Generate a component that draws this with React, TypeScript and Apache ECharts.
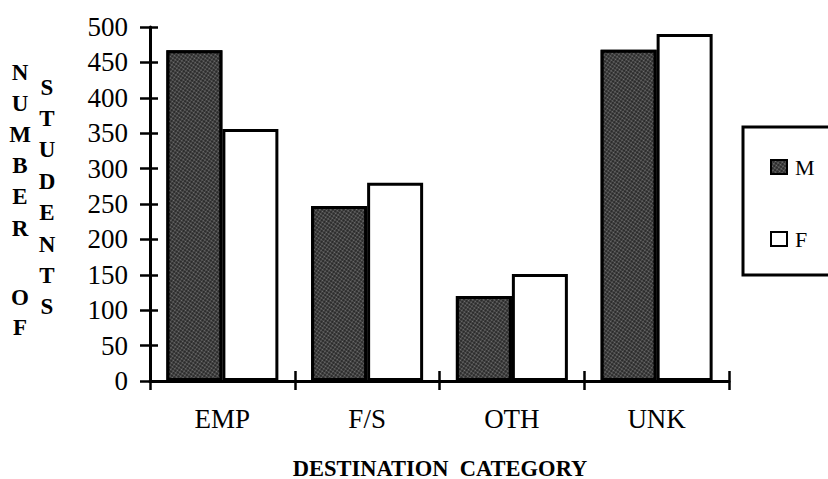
import React, { useEffect, useRef } from "react";
import * as echarts from "echarts";

const categories = ["EMP", "F/S", "OTH", "UNK"];
const maleValues = [467, 247, 120, 468];
const femaleValues = [356, 280, 151, 490];
const seriesNames = ["M", "F"];
const yTitleLeft = ["N", "U", "M", "B", "E", "R"];
const yTitleLeft2 = ["O", "F"];
const yTitleRight = ["S", "T", "U", "D", "E", "N", "T", "S"];
const xTitle = "DESTINATION  CATEGORY";

const SERIF = "Liberation Serif";

export default function App() {
  const ref = useRef<HTMLDivElement>(null);
  useEffect(() => {
    if (!ref.current) return;
    const chart = echarts.init(ref.current, undefined, { renderer: "svg" });
    const letterStyle = (ch: string) => ({
      text: ch,
      fontFamily: SERIF,
      fontSize: 23,
      fontWeight: "bold",
      fill: "#000",
      align: "center",
      verticalAlign: "middle",
    });
    const letterTexts: any[] = [];
    yTitleLeft.forEach((ch, i) => {
      letterTexts.push({ type: "text", x: 20, y: 72 + i * 31.2, style: letterStyle(ch) });
    });
    yTitleLeft2.forEach((ch, i) => {
      letterTexts.push({ type: "text", x: 20, y: 297 + i * 30, style: letterStyle(ch) });
    });
    yTitleRight.forEach((ch, i) => {
      letterTexts.push({ type: "text", x: 47, y: 87 + i * 31.4, style: letterStyle(ch) });
    });
    const decal = {
      symbol: "circle",
      symbolSize: 0.7,
      color: "rgba(170,170,170,0.6)",
      dashArrayX: [3, 0],
      dashArrayY: [3, 0],
      rotation: 0.6,
    };
    chart.setOption({
      animation: false,
      backgroundColor: "#fff",
      grid: { left: 150, right: 99, top: 27, bottom: 98, containLabel: false },
      legend: {
        orient: "vertical",
        left: 765,
        top: 151,
        itemWidth: 16,
        itemHeight: 14,
        itemGap: 50,
        icon: "rect",
        textStyle: { fontFamily: SERIF, fontSize: 22, color: "#000", padding: [6, 0, 0, 3] },
        data: seriesNames,
      },
      xAxis: [
        {
          type: "category",
          data: categories,
          boundaryGap: true,
          axisLine: { lineStyle: { color: "#000", width: 3 } },
          axisTick: { show: true, length: 9, lineStyle: { color: "#000", width: 2.5 } },
          axisLabel: { fontFamily: SERIF, fontSize: 27, color: "#000", margin: 24 },
          splitLine: { show: false },
        },
        {
          type: "category",
          data: categories,
          position: "bottom",
          boundaryGap: true,
          axisLine: { show: false },
          axisTick: { show: true, inside: true, length: 10, lineStyle: { color: "#000", width: 2.5 } },
          axisLabel: { show: false },
          splitLine: { show: false },
        },
      ],
      yAxis: [
        {
          type: "value",
          min: 0,
          max: 500,
          interval: 50,
          axisLine: { show: true, lineStyle: { color: "#000", width: 3 } },
          axisTick: { show: true, length: 10, lineStyle: { color: "#000", width: 2.5 } },
          axisLabel: { fontFamily: SERIF, fontSize: 27, color: "#000", margin: 22 },
          splitLine: { show: false },
        },
        {
          type: "value",
          min: 0,
          max: 500,
          interval: 50,
          position: "left",
          axisLine: { show: false },
          axisTick: { show: true, inside: true, length: 8, lineStyle: { color: "#000", width: 2.5 } },
          axisLabel: { show: false },
          splitLine: { show: false },
        },
      ],
      series: [
        {
          name: seriesNames[0],
          type: "bar",
          data: maleValues,
          barWidth: 56,
          barGap: "0%",
          itemStyle: { color: "#222", borderColor: "#000", borderWidth: 3, decal },
        },
        {
          name: seriesNames[1],
          type: "bar",
          data: femaleValues,
          barWidth: 56,
          itemStyle: { color: "#fff", borderColor: "#000", borderWidth: 3 },
        },
      ],
      graphic: [
        ...letterTexts,
        {
          type: "rect",
          shape: { x: 743, y: 127, width: 120, height: 148 },
          style: { fill: "none", stroke: "#000", lineWidth: 3 },
        },
        {
          type: "text",
          x: 440,
          y: 468,
          style: {
            text: xTitle,
            fontFamily: SERIF,
            fontSize: 22.5,
            fontWeight: "bold",
            fill: "#000",
            align: "center",
            verticalAlign: "middle",
          },
        },
      ],
    });
    return () => chart.dispose();
  }, []);
  return (
    <div
      ref={ref}
      style={{ position: "fixed", left: 0, top: 0, width: 828, height: 479, background: "#fff" }}
    />
  );
}
